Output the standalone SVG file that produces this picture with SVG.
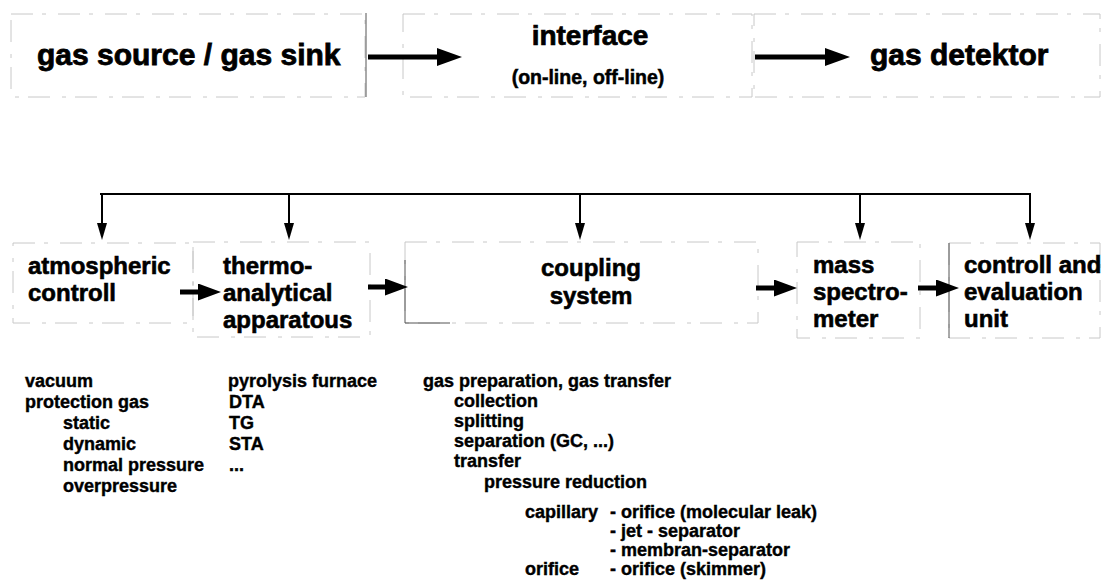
<svg xmlns="http://www.w3.org/2000/svg" width="1104" height="580" viewBox="0 0 1104 580">
<style>
text{font-family:"Liberation Sans",Arial,Helvetica,sans-serif;font-weight:bold;fill:#000;stroke:#000;stroke-width:0.5}
.big{font-size:30px;stroke-width:0.8}
.mid{font-size:24px;stroke-width:0.6}
.lst{font-size:18px;stroke-width:0.4}
.frame{fill:none;stroke:#c8c8c8;stroke-width:1;stroke-dasharray:22 9 4 12}
.edge{fill:none;stroke:#555;stroke-width:1}
.thick{stroke:#000;stroke-width:5;fill:none}
.thin{stroke:#000;stroke-width:2;fill:none}
</style>
<defs>
<marker id="headL" markerUnits="userSpaceOnUse" viewBox="0 0 25 18" refX="0" refY="9" markerWidth="25" markerHeight="18" orient="auto"><path d="M0,0 L25,9 L0,18 Z" fill="#000"/></marker>
<marker id="headM" markerUnits="userSpaceOnUse" viewBox="0 0 23 17" refX="0" refY="8.5" markerWidth="23" markerHeight="17" orient="auto"><path d="M0,0 L23,8.5 L0,17 Z" fill="#000"/></marker>
<marker id="headS" markerUnits="userSpaceOnUse" viewBox="0 0 10 17" refX="5" refY="0" markerWidth="10" markerHeight="17" orient="0"><path d="M0,0 L10,0 L5,17 Z" fill="#000"/></marker>
</defs>

<g id="gas-source">
<rect class="frame" x="11" y="14" width="354" height="83"/>
<line class="edge" x1="366" y1="13" x2="366" y2="97" stroke="#222"/>
<text class="big" x="37" y="65">gas source / gas sink</text>
</g>
<g id="interface">
<rect class="frame" x="403" y="14" width="349" height="83"/>
<text class="mid" x="590" y="45" text-anchor="middle" style="font-size:28px;stroke-width:0.7">interface</text>
<text x="588" y="84" text-anchor="middle" style="font-size:19.5px">(on-line, off-line)</text>
</g>
<g id="gas-detektor">
<rect class="frame" x="754" y="14" width="346" height="83"/>
<text class="big" x="870" y="65">gas detektor</text>
</g>

<g id="atmospheric-controll">
<rect class="frame" x="13" y="243" width="180" height="80"/>
<text class="mid" x="28" y="274">atmospheric</text>
<text class="mid" x="28" y="301">controll</text>
</g>
<g id="thermo-analytical-apparatous">
<rect class="frame" x="193" y="242" width="177" height="95"/>
<text class="mid" x="223" y="274">thermo-</text>
<text class="mid" x="223" y="301">analytical</text>
<text class="mid" x="223" y="328">apparatous</text>
</g>
<g id="coupling-system">
<rect class="frame" x="405" y="242" width="353" height="81"/>
<path class="edge" d="M405,260 L405,323 L450,323"/>
<text class="mid" x="591" y="276" text-anchor="middle">coupling</text>
<text class="mid" x="591" y="304" text-anchor="middle">system</text>
</g>
<g id="mass-spectrometer">
<rect class="frame" x="797" y="242" width="123" height="96"/>
<text class="mid" x="813" y="273">mass</text>
<text class="mid" x="813" y="300">spectro-</text>
<text class="mid" x="813" y="327">meter</text>
</g>
<g id="controll-evaluation-unit">
<rect class="frame" x="949" y="243" width="151" height="95"/>
<line class="edge" x1="949" y1="243" x2="949" y2="338" stroke="#888"/>
<text class="mid" x="964" y="273">controll and</text>
<text class="mid" x="964" y="300">evaluation</text>
<text class="mid" x="964" y="327">unit</text>
</g>

<g id="atmospheric-list">
<text class="lst" x="25" y="387">vacuum</text>
<text class="lst" x="25" y="408">protection gas</text>
<text class="lst" x="63" y="429">static</text>
<text class="lst" x="63" y="450">dynamic</text>
<text class="lst" x="63" y="471">normal pressure</text>
<text class="lst" x="63" y="492">overpressure</text>
</g>
<g id="thermo-list">
<text class="lst" x="228" y="387">pyrolysis furnace</text>
<text class="lst" x="229" y="408">DTA</text>
<text class="lst" x="229" y="429">TG</text>
<text class="lst" x="229" y="450">STA</text>
<text class="lst" x="229" y="471">...</text>
</g>
<g id="coupling-list">
<text class="lst" x="423" y="387">gas preparation, gas transfer</text>
<text class="lst" x="454" y="407">collection</text>
<text class="lst" x="454" y="427">splitting</text>
<text class="lst" x="454" y="447">separation (GC, ...)</text>
<text class="lst" x="454" y="467">transfer</text>
<text class="lst" x="484" y="488">pressure reduction</text>
<text class="lst" x="525" y="518">capillary</text>
<text class="lst" x="610" y="518">- orifice (molecular leak)</text>
<text class="lst" x="610" y="537">- jet - separator</text>
<text class="lst" x="610" y="556">- membran-separator</text>
<text class="lst" x="525" y="575">orifice</text>
<text class="lst" x="610" y="575">- orifice (skimmer)</text>
</g>

<g id="connectors">
<line class="thick" x1="368" y1="57" x2="437" y2="57" marker-end="url(#headL)"/>
<line class="thick" x1="755" y1="57" x2="825" y2="57" marker-end="url(#headL)"/>
<line class="thin" x1="100" y1="194" x2="1031" y2="194" stroke-width="2.5"/>
<line class="thin" x1="102" y1="194" x2="102" y2="223" marker-end="url(#headS)"/>
<line class="thin" x1="289" y1="194" x2="289" y2="223" marker-end="url(#headS)"/>
<line class="thin" x1="580" y1="194" x2="580" y2="223" marker-end="url(#headS)"/>
<line class="thin" x1="860" y1="194" x2="860" y2="223" marker-end="url(#headS)"/>
<line class="thin" x1="1030" y1="194" x2="1030" y2="223" marker-end="url(#headS)"/>
<line class="thick" x1="180" y1="292" x2="198" y2="292" marker-end="url(#headM)"/>
<line class="thick" x1="368" y1="287" x2="385" y2="287" marker-end="url(#headM)"/>
<line class="thick" x1="756" y1="288" x2="774" y2="288" marker-end="url(#headM)"/>
<line class="thick" x1="918" y1="288" x2="936" y2="288" marker-end="url(#headM)"/>
</g>
</svg>
